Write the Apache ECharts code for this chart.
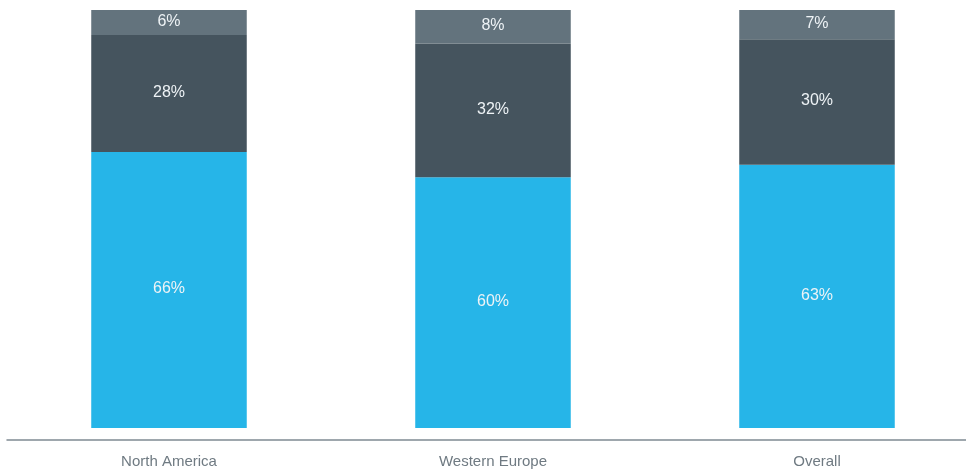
<!DOCTYPE html>
<html>
<head>
<meta charset="utf-8">
<script src="https://cdn.jsdelivr.net/npm/echarts@6/dist/echarts.min.js"></script>
<style>
  html, body { margin: 0; padding: 0; background: #ffffff; }
  #chart { width: 966px; height: 470px; }
</style>
</head>
<body>
<div id="chart"></div>
<script>
// Regions shown along the x axis
const categories = ['North America', 'Western Europe', 'Overall'];
// Stacked shares, bottom to top (percent)
const shareBottom = [66, 60, 63];
const shareMiddle = [28, 32, 30];
const shareTop = [6, 8, 7];

const chart = echarts.init(document.getElementById('chart'), null, { renderer: 'canvas' });

const labelStyle = {
  show: true,
  position: 'inside',
  color: '#eef3f6',
  fontFamily: 'Liberation Sans, Arial, sans-serif',
  fontSize: 16,
  offset: [0, -1],
  formatter: p => p.value + '%'
};

function seg(name, data, color) {
  return {
    name: name,
    type: 'bar',
    stack: 'total',
    data: data,
    barWidth: '48%',
    itemStyle: { color: color },
    label: labelStyle,
    emphasis: { disabled: true }
  };
}

chart.setOption({
  animation: false,
  grid: { left: 7, width: 972, top: 10, bottom: 42, outerBoundsMode: 'none' },
  xAxis: {
    type: 'category',
    data: categories,
    offset: 12,
    axisLine: { show: true, onZero: false, lineStyle: { color: '#7f8a92', width: 1.5 } },
    axisTick: { show: false },
    axisLabel: {
      color: '#6f7a82',
      fontSize: 15,
      fontFamily: 'Liberation Sans, Arial, sans-serif',
      margin: 14
    }
  },
  yAxis: {
    type: 'value',
    min: 0,
    max: 100,
    show: false,
    splitLine: { show: false }
  },
  series: [
    seg('bottom', shareBottom, '#26b5e8'),
    seg('middle', shareMiddle, '#45545e'),
    seg('top', shareTop, '#63737d')
  ]
});
</script>
</body>
</html>
